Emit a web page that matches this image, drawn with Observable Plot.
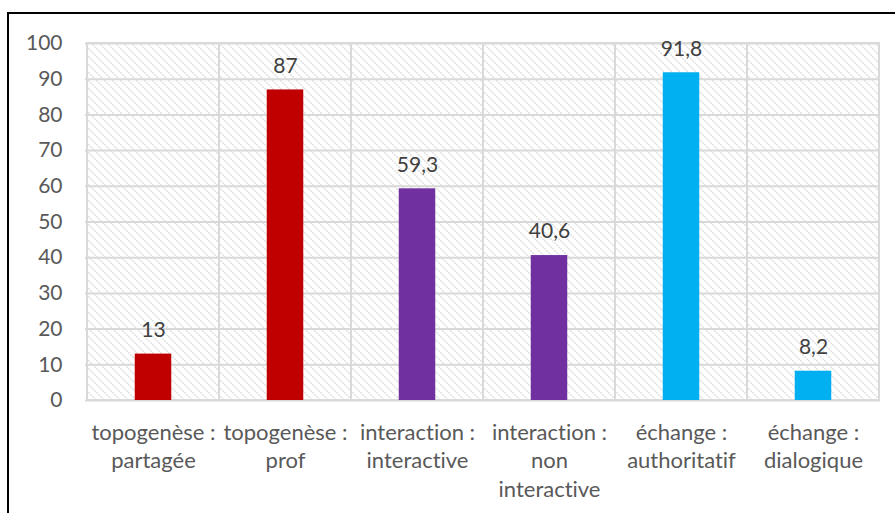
<!DOCTYPE html>
<html>
<head>
<meta charset="utf-8">
<script src="https://cdn.jsdelivr.net/npm/d3@7"></script>
<script src="https://cdn.jsdelivr.net/npm/@observablehq/plot@0.6"></script>
<style>
  html, body { margin: 0; padding: 0; background: #fff; overflow: hidden; width: 895px; height: 513px; }
  #wrap { position: relative; width: 895px; height: 513px; }
  #border { position: absolute; left: 7px; top: 12px; width: 1000px; height: 1000px; border: 2px solid #000; box-sizing: border-box; pointer-events: none; }
  #chart { position: absolute; left: 0; top: 0; }
  svg text { font-variant-ligatures: none; font-feature-settings: "liga" 0; }
</style>
</head>
<body>
<div id="wrap"><div id="chart"></div><div id="border"></div></div>
<script>
const categories = [
  "topogenèse :\npartagée",
  "topogenèse :\nprof",
  "interaction :\ninteractive",
  "interaction :\nnon\ninteractive",
  "échange :\nauthoritatif",
  "échange :\ndialogique"
];
const values = [13, 87, 59.3, 40.6, 91.8, 8.2];
const colors = ["#C00000", "#C00000", "#7030A0", "#7030A0", "#00B0F0", "#00B0F0"];
const yTicks = [0, 10, 20, 30, 40, 50, 60, 70, 80, 90, 100];

const data = categories.map((c, i) => ({category: c, value: values[i], color: colors[i]}));
const cells = categories.map(c => ({category: c}));

const grid = "#d9d9d9";
const fs = 21;
const plot = Plot.plot({
  width: 895,
  height: 513,
  marginLeft: 85,
  marginRight: 15,
  marginTop: 43,
  marginBottom: 113,
  style: {fontFamily: "Lato, sans-serif", fontSize: fs + "px", color: "#595959", background: "transparent"},
  x: {domain: categories, padding: 0, label: null},
  y: {domain: [0, 100], label: null},
  marks: [
    Plot.barY(cells, {x: "category", y1: 0, y2: 100, fill: "url(#hatch)"}),
    Plot.gridY(yTicks, {stroke: grid, strokeOpacity: 1, strokeWidth: 2}),
    Plot.barY(cells, {x: "category", y1: 0, y2: 100, fill: "none", stroke: grid, strokeWidth: 2}),
    Plot.barY(data, {x: "category", y: "value", fill: "color", insetLeft: 47.75, insetRight: 47.75}),
    Plot.text(data, {x: "category", y: "value", text: d => String(d.value).replace(".", ","), dy: -24, fill: "#404040", fontSize: fs}),
    Plot.axisY({ticks: yTicks, tickSize: 0, tickPadding: 23, fill: "#595959", fontSize: fs, label: null}),
    Plot.axisX({tickSize: 0, tickPadding: 19, lineHeight: 1.3, fill: "#595959", fontSize: 22, label: null})
  ]
});

const svg = d3.select(plot);
const defs = svg.insert("defs", ":first-child");
const pat = defs.append("pattern")
  .attr("id", "hatch")
  .attr("patternUnits", "userSpaceOnUse")
  .attr("width", 8).attr("height", 8);
pat.append("path")
  .attr("d", "M-2,-2 L10,10 M-2,6 L2,10 M6,-2 L10,2")
  .attr("stroke", "#e0e0e0")
  .attr("stroke-width", 1.5)
  .attr("stroke-dasharray", "2 1");
document.getElementById("chart").appendChild(plot);
</script>
</body>
</html>
